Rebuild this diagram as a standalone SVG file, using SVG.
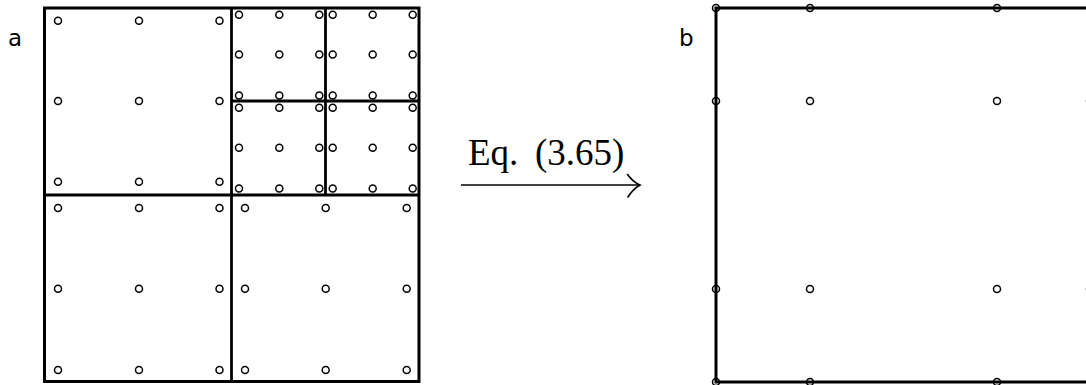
<svg xmlns="http://www.w3.org/2000/svg" width="1086" height="385" viewBox="0 0 1086 385">
<style>
.frame{fill:none;stroke:#000;stroke-width:3;stroke-linecap:square}
.div{fill:none;stroke:#000;stroke-width:2.8}
.pt{fill:none;stroke:#000;stroke-width:1.5}
.lbl{font-family:"DejaVu Sans",sans-serif;font-size:23px;fill:#000}
.eq{font-family:"Liberation Serif",serif;font-size:37px;fill:#000}
</style>
<rect width="1086" height="385" fill="#fff"/>
<defs>
<circle id="c" r="3.5" class="pt"/>
</defs>
<g id="panel-a">
<text class="lbl" x="8" y="46">a</text>
<rect class="frame" x="44.5" y="8" width="374.5" height="373.5"/>
<line class="div" x1="231.5" y1="8" x2="231.5" y2="381.5"/>
<line class="div" x1="44.5" y1="195" x2="419" y2="195"/>
<line class="div" x1="325.5" y1="8" x2="325.5" y2="195"/>
<line class="div" x1="231.5" y1="101" x2="419" y2="101"/>
<g id="q-top-left">
<use href="#c" x="58" y="20.7"/><use href="#c" x="139" y="20.7"/><use href="#c" x="219.5" y="20.7"/>
<use href="#c" x="58" y="101"/><use href="#c" x="139" y="101"/><use href="#c" x="219.5" y="101"/>
<use href="#c" x="58" y="181.7"/><use href="#c" x="139" y="181.7"/><use href="#c" x="219.5" y="181.7"/>
</g>
<g id="q-bottom-left">
<use href="#c" x="58" y="208"/><use href="#c" x="139" y="208"/><use href="#c" x="219.5" y="208"/>
<use href="#c" x="58" y="288.7"/><use href="#c" x="139" y="288.7"/><use href="#c" x="219.5" y="288.7"/>
<use href="#c" x="58" y="370"/><use href="#c" x="139" y="370"/><use href="#c" x="219.5" y="370"/>
</g>
<g id="q-bottom-right">
<use href="#c" x="245" y="208"/><use href="#c" x="325.7" y="208"/><use href="#c" x="406.7" y="208"/>
<use href="#c" x="245" y="288.7"/><use href="#c" x="325.7" y="288.7"/><use href="#c" x="406.7" y="288.7"/>
<use href="#c" x="245" y="370"/><use href="#c" x="325.7" y="370"/><use href="#c" x="406.7" y="370"/>
</g>
<g id="q-top-right-sub1">
<use href="#c" x="239" y="14.7"/><use href="#c" x="279.3" y="14.7"/><use href="#c" x="319.3" y="14.7"/>
<use href="#c" x="239" y="54.5"/><use href="#c" x="279.3" y="54.5"/><use href="#c" x="319.3" y="54.5"/>
<use href="#c" x="239" y="95.5"/><use href="#c" x="279.3" y="95.5"/><use href="#c" x="319.3" y="95.5"/>
</g>
<g id="q-top-right-sub2">
<use href="#c" x="332.7" y="14.7"/><use href="#c" x="372.7" y="14.7"/><use href="#c" x="412.7" y="14.7"/>
<use href="#c" x="332.7" y="54.5"/><use href="#c" x="372.7" y="54.5"/><use href="#c" x="412.7" y="54.5"/>
<use href="#c" x="332.7" y="95.5"/><use href="#c" x="372.7" y="95.5"/><use href="#c" x="412.7" y="95.5"/>
</g>
<g id="q-top-right-sub3">
<use href="#c" x="239" y="107.7"/><use href="#c" x="279.3" y="107.7"/><use href="#c" x="319.3" y="107.7"/>
<use href="#c" x="239" y="147.7"/><use href="#c" x="279.3" y="147.7"/><use href="#c" x="319.3" y="147.7"/>
<use href="#c" x="239" y="188.5"/><use href="#c" x="279.3" y="188.5"/><use href="#c" x="319.3" y="188.5"/>
</g>
<g id="q-top-right-sub4">
<use href="#c" x="332.7" y="107.7"/><use href="#c" x="372.7" y="107.7"/><use href="#c" x="412.7" y="107.7"/>
<use href="#c" x="332.7" y="147.7"/><use href="#c" x="372.7" y="147.7"/><use href="#c" x="412.7" y="147.7"/>
<use href="#c" x="332.7" y="188.5"/><use href="#c" x="372.7" y="188.5"/><use href="#c" x="412.7" y="188.5"/>
</g>
</g>
<g id="connectors">
<line x1="461" y1="185" x2="639" y2="185" stroke="#000" stroke-width="1.6"/>
<path d="M627.5 174.5 Q633 182 640 185 Q633 189 628 197" fill="none" stroke="#000" stroke-width="1.6" stroke-linecap="round"/>
<text class="eq" x="468" y="164.5">Eq.<tspan x="535">(3.65)</tspan></text>
</g>
<g id="panel-b">
<text class="lbl" x="679" y="46">b</text>
<rect class="frame" x="716" y="8" width="374" height="374"/>
<use href="#c" x="716" y="8"/><use href="#c" x="810" y="8"/><use href="#c" x="997" y="8"/><use href="#c" x="1090" y="8"/>
<use href="#c" x="716" y="101"/><use href="#c" x="810" y="101"/><use href="#c" x="997" y="101"/><use href="#c" x="1090" y="101"/>
<use href="#c" x="716" y="289"/><use href="#c" x="810" y="289"/><use href="#c" x="997" y="289"/><use href="#c" x="1090" y="289"/>
<use href="#c" x="716" y="382"/><use href="#c" x="810" y="382"/><use href="#c" x="997" y="382"/><use href="#c" x="1090" y="382"/>
</g>
</svg>
